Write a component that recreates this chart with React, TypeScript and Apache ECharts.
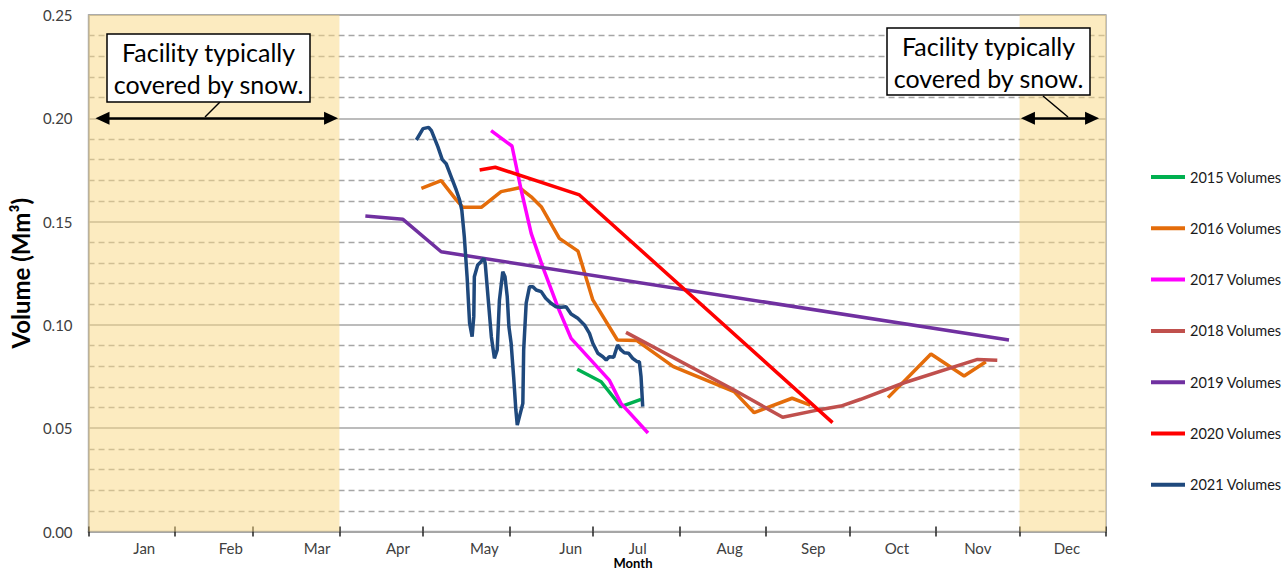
import React, { useEffect, useRef } from "react";
import * as echarts from "echarts";

// Day-of-year axis
const monthNames = ["Jan", "Feb", "Mar", "Apr", "May", "Jun", "Jul", "Aug", "Sep", "Oct", "Nov", "Dec"];
const monthStarts = [0, 31, 59, 90, 120, 151, 181, 212, 243, 273, 304, 334, 365];
const monthLabelDays = [20, 51, 82, 111, 142, 173, 197, 230, 260, 290, 319, 351];
const yTicks = [0, 0.05, 0.1, 0.15, 0.2, 0.25];

const snowPeriods = [[0, 90], [334, 365]];
const snowArrows = [[5, 87], [337, 360]];
const snowArrowLevel = 0.2;
const snowNote = "Facility typically\ncovered by snow.";

const seriesNames = ["2015 Volumes", "2016 Volumes", "2017 Volumes", "2018 Volumes", "2019 Volumes", "2020 Volumes", "2021 Volumes"];
const seriesColors = ["#00B050", "#E46C0A", "#FF00FF", "#C0504D", "#7030A0", "#FF0000", "#1F497D"];

const vol2015 = [[175.3, 0.0785], [183.9, 0.0725], [191, 0.0604], [198.2, 0.064]];
const vol2016 = [
  [119.4, 0.1661], [126.5, 0.1698], [131.9, 0.1605], [134.3, 0.1569], [140.9, 0.1569], [148, 0.1645],
  [154.6, 0.1664], [158.8, 0.162], [162.4, 0.1572], [168.9, 0.1419], [175.6, 0.1357], [180.9, 0.1121],
  [189.7, 0.0927], [196.6, 0.0925], [209.8, 0.0798], [231.6, 0.0677], [238.8, 0.0575], [252.4, 0.0645],
  [258.9, 0.0612], [272, null], [286.8, 0.0648], [302.2, 0.0859], [314.1, 0.0753], [321.9, 0.0822],
];
const vol2017 = [
  [144.4, 0.194], [151.9, 0.1866], [155.2, 0.1653], [158.8, 0.1443], [162.9, 0.1282], [168.3, 0.1088],
  [173.1, 0.0935], [186.8, 0.0733], [191, 0.062], [200.7, 0.0477],
];
const vol2018 = [
  [192.8, 0.0964], [231.6, 0.0685], [249, 0.0553], [262.7, 0.0591], [269.9, 0.0607], [277, 0.064],
  [292.6, 0.072], [318.9, 0.0833], [326, 0.0829],
];
const vol2019 = [[99.3, 0.1527], [112.8, 0.1511], [126.5, 0.1354], [330.2, 0.0927]];
const vol2020 = [[140.3, 0.175], [145.9, 0.1763], [176.1, 0.1629], [266.9, 0.0527]];
const vol2021 = [
  [117.6, 0.1895], [120, 0.195], [122, 0.1956], [123, 0.194], [125.3, 0.1863], [126.9, 0.18], [128.3, 0.178],
  [130.1, 0.1717], [131.9, 0.1653], [133.1, 0.1605], [133.9, 0.1556], [134.8, 0.1427], [135.8, 0.1233],
  [136.7, 0.1008], [137.6, 0.0943], [138.2, 0.104], [138.4, 0.1233], [139.6, 0.129], [140.8, 0.1306],
  [141.8, 0.1322], [142.3, 0.1298], [143.3, 0.1137], [144.5, 0.0943], [145.6, 0.0838], [146.6, 0.0879],
  [147.4, 0.112], [148.6, 0.1258], [149.4, 0.1233], [150.2, 0.1137], [150.8, 0.0991], [151.6, 0.0911],
  [152.5, 0.0749], [153.3, 0.0588], [153.8, 0.0515], [155.8, 0.062], [156.1, 0.0879], [157, 0.1105],
  [158.2, 0.1185], [159.4, 0.1185], [160.6, 0.1169], [162.4, 0.1161], [164, 0.1129], [165.9, 0.1105],
  [167.7, 0.1088], [169.5, 0.1085], [171.3, 0.1088], [173.1, 0.1053], [175.5, 0.1032], [177.9, 0.1],
  [179.7, 0.0959], [180.9, 0.0911], [182.7, 0.0863], [184.5, 0.0846], [185.7, 0.083], [186.8, 0.0846],
  [188.4, 0.0843], [189.8, 0.0903], [191, 0.0879], [192.2, 0.0865], [193.7, 0.0863], [195.2, 0.0838],
  [196.8, 0.0822], [197.6, 0.0822], [198.2, 0.0749], [198.8, 0.0604],
];
const allVolumes = [vol2015, vol2016, vol2017, vol2018, vol2019, vol2020, vol2021];

const FONT = "Lato";

export default function App() {
  const ref = useRef<HTMLDivElement>(null);
  useEffect(() => {
    if (!ref.current) return;
    const chart = echarts.init(ref.current, undefined, { renderer: "svg" });
    const boxStyle = { fill: "#fff", stroke: "#000", lineWidth: 1.5 };
    const noteText = (cx: number, cy: number) => ({
      type: "text",
      x: cx,
      y: cy,
      style: {
        text: snowNote,
        fontFamily: FONT,
        fontSize: 25,
        lineHeight: 32,
        fill: "#000",
        align: "center",
        verticalAlign: "middle",
      },
    });
    chart.setOption({
      animation: false,
      backgroundColor: "#fff",
      textStyle: { fontFamily: FONT },
      grid: {
        left: 87,
        right: 180,
        top: 15,
        bottom: 39.5,
        show: true,
        borderColor: "#A6A6A6",
        borderWidth: 1.5,
      },
      legend: {
        orient: "vertical",
        left: 1146,
        top: 164,
        data: seriesNames,
        icon: "rect",
        itemWidth: 34,
        itemHeight: 4,
        itemGap: 35.3,
        textStyle: { fontFamily: FONT, fontSize: 14.5, color: "#1a1a1a", lineHeight: 16 },
      },
      xAxis: [
        {
          type: "value",
          min: 0,
          max: 365,
          axisLine: { show: true, lineStyle: { color: "#A6A6A6", width: 2 } },
          axisTick: { show: true, customValues: monthStarts, length: 5, lineStyle: { color: "#222", width: 1.5 } },
          axisLabel: {
            customValues: monthLabelDays,
            margin: 9,
            fontFamily: FONT,
            fontSize: 15,
            color: "#404040",
            formatter: (v: number) => {
              const i = monthLabelDays.indexOf(v);
              return i >= 0 ? monthNames[i] : "";
            },
          },
          splitLine: { show: false },
        },
        {
          type: "value",
          min: 0,
          max: 365,
          position: "bottom",
          axisLine: { show: false },
          axisTick: { show: true, inside: true, customValues: monthStarts, length: 5, lineStyle: { color: "#222", width: 1.5 } },
          axisLabel: { show: false },
          splitLine: { show: false },
        },
      ],
      yAxis: {
        type: "value",
        min: yTicks[0],
        max: yTicks[yTicks.length - 1],
        interval: 0.05,
        name: "Volume (Mm³)",
        nameLocation: "middle",
        nameGap: 50,
        nameTextStyle: { fontFamily: FONT, fontSize: 24, fontWeight: "bold", color: "#000" },
        axisLine: { show: true, lineStyle: { color: "#A6A6A6", width: 1.5 } },
        axisTick: { show: false },
        axisLabel: {
          margin: 16,
          fontFamily: FONT,
          fontSize: 15,
          color: "#404040",
          formatter: (v: number) => v.toFixed(2),
        },
        splitLine: { show: true, lineStyle: { color: "#A6A6A6", width: 1.5 } },
        minorTick: { show: false, splitNumber: 5 },
        minorSplitLine: { show: true, lineStyle: { color: "#A6A6A6", width: 1.4, type: [6, 4] } },
      },
      series: [
        {
          name: "snow",
          type: "line",
          data: [],
          silent: true,
          markArea: {
            silent: true,
            itemStyle: { color: "rgba(250,215,130,0.5)" },
            data: snowPeriods.map(([a, b]) => [{ coord: [a, 0] }, { coord: [b, 0.25] }]),
          },
          markLine: {
            silent: true,
            symbol: ["triangle", "triangle"],
            symbolSize: [13, 14],
            label: { show: false },
            lineStyle: { color: "#000", width: 2.5, type: "solid" },
            data: snowArrows.map(([a, b]) => [{ coord: [a, snowArrowLevel] }, { coord: [b, snowArrowLevel] }]),
          },
        },
        ...seriesNames.map((name, i) => ({
          name,
          type: "line",
          data: allVolumes[i],
          showSymbol: false,
          connectNulls: false,
          color: seriesColors[i],
          lineStyle: { color: seriesColors[i], width: 3.5 },
          z: 3,
        })),
      ],
      graphic: [
        { type: "line", shape: { x1: 220, y1: 102, x2: 205, y2: 117 }, style: { stroke: "#000", lineWidth: 1.5 }, z: 10 },
        { type: "rect", shape: { x: 107, y: 34, width: 203, height: 68 }, style: boxStyle, z: 10 },
        { ...noteText(208.5, 68), z: 11 },
        { type: "line", shape: { x1: 1043, y1: 96, x2: 1068, y2: 117 }, style: { stroke: "#000", lineWidth: 1.5 }, z: 10 },
        { type: "rect", shape: { x: 887, y: 28, width: 203, height: 67 }, style: boxStyle, z: 10 },
        { ...noteText(988.5, 61.5), z: 11 },
        {
          type: "text",
          x: 633,
          y: 563,
          style: { text: "Month", fontFamily: FONT, fontSize: 13, fontWeight: "bold", fill: "#000", align: "center", verticalAlign: "middle" },
        },
      ],
    });
    return () => chart.dispose();
  }, []);
  return <div ref={ref} style={{ width: 1286, height: 571, position: "absolute", left: 0, top: 0 }} />;
}
